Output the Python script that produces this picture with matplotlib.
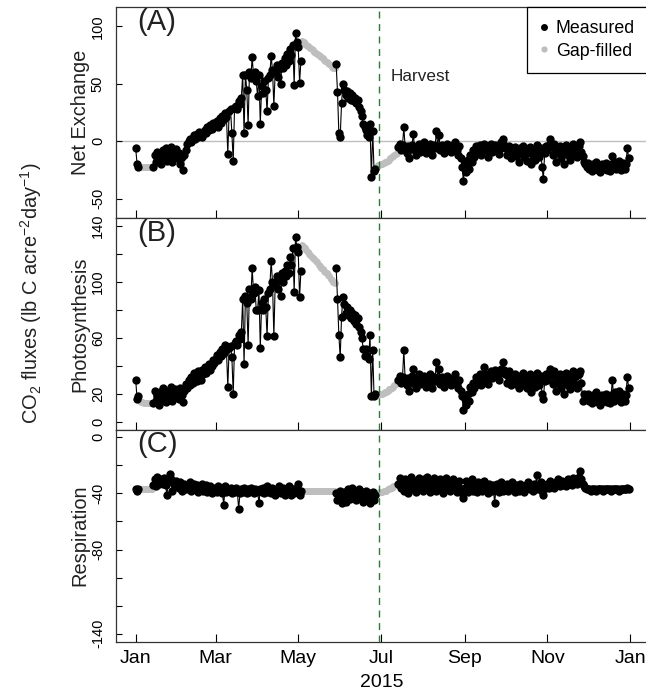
import matplotlib
matplotlib.use('Agg')
import matplotlib.pyplot as plt
from matplotlib.lines import Line2D
import numpy as np
import pandas as pd

plt.rcParams['font.family'] = ['Liberation Sans', 'DejaVu Sans']
plt.rcParams['mathtext.fontset'] = 'custom'
plt.rcParams['mathtext.rm'] = 'Liberation Sans'
plt.rcParams['mathtext.default'] = 'regular'

days = pd.date_range('2015-01-01', '2015-12-31', freq='D')

# net ecosystem exchange, one value per day (gap-filled days included)
nee_jan = [-6, -20, -22, -22, -22, -22, -22, -22, -22, -22, -22, -22, -22,
           -22, -12, -18, -9, -15, -11, -20, -8, -14, -6, -17, -10, -13, -5, -18, -9, -12, -7]
nee_feb = [-15, -10, -20, -14, -25, -12, -8, -2, 0, 2, -1, 3, 5, 2, 6, 4, 8, 6, 4, 8,
           10, 7, 12, 10, 14, 11, 16, 13]
nee_mar = [14, 18, 12, 20, 16, 22, 19, 25, 21, -11, 26, 28, 7, -17, 30, 31, 28, 35, 32, 38,
           58, 7, 58, 45, 14, 60, 55, 73, 57, 60, 52]
nee_apr = [39, 58, 15, 48, 42, 52, 45, 26, 55, 58, 74, 62, 31, 60, 66, 56, 63, 50, 68, 64,
           72, 66, 76, 70, 80, 75, 84, 49, 94, 86]
nee_may = [82, 51, 70, 87, 86, 85, 84, 83, 82, 81, 80, 79, 78, 77, 76, 75, 74, 73, 72, 71,
           70, 69, 68, 67, 66, 65, 64, 64, 67, 43, 7]
nee_jun = [4, 33, 50, 45, 40, 44, 38, 42, 36, 40, 35, 38, 33, 36, 30, 26, 22, 15, 12, 10,
           5, 4, 15, -31, 9, -26, -24, -22, -21, -21]
nee_jul = [-20, -20, -19, -18, -18, -17, -16, -15, -14, -13, -12, -11, -10,
           -5, -2, -8, -3, 12, -6, -10, -4, -15, -7, -3, 6, -8, -12, -5, -2, -9, -4]
nee_aug = [-6, -1, -10, -4, -7, -2, -5, -12, -3, -6, 9, -4, 5, -8, -3, -6, -10, -4, -2, -7,
           -5, -9, -3, -6, -1, -8, -12, -4, -15, -22, -35]
nee_sep = [-20, -27, -16, -24, -12, -18, -8, -14, -4, -10, -6, -3, -12, -5, -2, -8, -4, -14,
           -6, -2, -9, -5, -3, -7, -4, -11, -6, -1, 2, -3]
nee_oct = [-6, -12, -8, -4, -15, -7, -10, -5, -13, -9, -18, -6, -11, -4, -14, -8, -17, -10,
           -5, -20, -12, -7, -16, -3, -9, -14, -6, -22, -33, -10, -4]
nee_nov = [-8, -3, 2, -5, -12, -2, -18, -7, -10, -4, -15, -6, -20, -9, -3, -12, -5, -16, -8,
           -2, -11, -6, -14, -4, -1, -9, -13, -18, -20, -22]
nee_dec = [-19, -24, -21, -26, -20, -23, -18, -25, -22, -27, -20, -24, -21, -19, -25, -22,
           -26, -20, -13, -23, -18, -24, -21, -17, -25, -22, -19, -24, -20, -6, -15]

# gross photosynthesis
gpp_jan = [30, 16, 18, 15, 14, 14, 13, 13, 13, 13, 13, 13, 13,
           13, 22, 15, 19, 12, 21, 16, 24, 18, 14, 22, 17, 20, 25, 15, 19, 23, 18]
gpp_feb = [21, 16, 24, 19, 14, 22, 27, 24, 30, 26, 32, 28, 35, 31, 29, 36, 33, 30, 37, 34,
           39, 35, 38, 41, 37, 40, 44, 42]
gpp_mar = [45, 48, 44, 50, 47, 52, 49, 55, 51, 25, 53, 54, 46, 20, 56, 58, 55, 62, 59, 64,
           88, 41, 90, 85, 55, 95, 88, 110, 92, 96, 80]
gpp_apr = [80, 94, 53, 85, 80, 88, 82, 61, 92, 95, 115, 100, 61, 98, 104, 95, 102, 90, 106,
           100, 108, 104, 112, 106, 118, 112, 124, 93, 132, 125]
gpp_may = [121, 89, 108, 126, 125, 124, 123, 121, 120, 119, 118, 117, 116, 115, 114, 112,
           111, 110, 109, 108, 107, 106, 105, 104, 102, 101, 100, 99, 110, 88, 62]
gpp_jun = [46, 75, 89, 84, 78, 82, 76, 80, 74, 78, 72, 76, 70, 74, 68, 64, 60, 52, 47, 52,
           47, 45, 62, 18, 51, 18, 20, 19, 19, 19.5]
gpp_jul = [20, 20, 20.5, 21, 21.5, 22, 23, 23.5, 24, 25, 26, 27, 28,
           30, 33, 28, 32, 51, 29, 26, 31, 22, 28, 33, 38, 27, 24, 30, 34, 27, 31]
gpp_aug = [29, 33, 25, 31, 28, 34, 30, 24, 32, 29, 43, 31, 38, 27, 32, 29, 25, 31, 33, 28,
           30, 26, 31, 29, 34, 27, 24, 30, 22, 18, 8]
gpp_sep = [16, 12, 20, 15, 25, 21, 28, 24, 32, 27, 30, 34, 26, 32, 39, 30, 34, 27, 33, 36,
           31, 34, 37, 33, 36, 30, 35, 38, 43, 37]
gpp_oct = [34, 28, 33, 36, 26, 32, 29, 34, 27, 30, 24, 33, 28, 35, 26, 31, 24, 29, 34, 21,
           28, 32, 25, 35, 30, 26, 33, 20, 16, 29, 34]
gpp_nov = [30, 35, 38, 33, 27, 36, 22, 31, 28, 34, 24, 32, 20, 29, 35, 26, 33, 23, 30, 36,
           27, 33, 24, 34, 36, 28, 15, 20, 18, 16]
gpp_dec = [20, 15, 18, 13, 19, 16, 21, 14, 17, 12, 19, 15, 18, 20, 14, 17, 13, 19, 30, 15,
           21, 16, 18, 22, 14, 17, 20, 15, 19, 32, 24]

# ecosystem respiration
reco_jan = [-37, -38, -37, -37, -37, -37, -37, -37, -37, -37, -37, -37, -37,
            -34, -30, -35, -28, -33, -30, -31, -33, -29, -34, -41, -32, -26, -30, -38, -33, -35, -31]
reco_feb = [-34, -36, -32, -38, -35, -33, -37, -34, -36, -32, -38, -35, -33, -37, -34, -39,
            -35, -36, -33, -38, -36, -34, -39, -37, -35, -40, -36, -38]
reco_mar = [-37, -39, -35, -38, -36, -40, -48, -35, -39, -38, -38, -36, -40, -37, -39, -36,
            -38, -51, -40, -37, -39, -36, -38, -40, -37, -39, -36, -38, -40, -37, -39]
reco_apr = [-38, -47, -37, -39, -36, -40, -38, -35, -39, -37, -40, -36, -38, -41, -37, -39,
            -35, -40, -38, -36, -41, -37, -39, -35, -38, -41, -37, -40, -38, -36]
reco_may = [-33, -41, -38, -38, -38, -38, -38, -38, -38, -38, -38, -38, -38, -38, -38, -38,
            -38, -38, -38, -38, -38, -38, -38, -38, -38, -38, -38, -38, -40, -45, -42]
reco_jun = [-38, -47, -43, -39, -46, -41, -37, -44, -40, -36, -42, -38, -45, -41, -37, -43,
            -39, -46, -42, -38, -44, -40, -47, -43, -39, -45, -41, -40, -40, -39]
reco_jul = [-39, -39, -38, -38, -38, -37, -37, -36, -36, -35, -35, -34, -34,
            -33, -29, -36, -31, -38, -30, -35, -40, -32, -28, -34, -37, -31, -39, -33, -29, -36, -32]
reco_aug = [-38, -30, -35, -28, -33, -39, -31, -36, -29, -34, -38, -32, -37, -30, -35, -40,
            -33, -29, -36, -31, -38, -34, -30, -37, -33, -39, -35, -31, -37, -40, -43]
reco_sep = [-36, -31, -39, -34, -37, -30, -38, -35, -33, -39, -32, -36, -34, -38, -31, -37,
            -35, -40, -33, -36, -38, -34, -47, -37, -33, -39, -35, -32, -38, -34]
reco_oct = [-36, -33, -38, -34, -37, -32, -35, -39, -34, -36, -38, -33, -37, -35, -39, -34,
            -36, -32, -37, -35, -38, -33, -36, -27, -37, -35, -32, -38, -41, -34, -36]
reco_nov = [-33, -36, -31, -35, -33, -36, -32, -34, -30, -35, -33, -31, -34, -32, -35, -30,
            -33, -31, -34, -29, -32, -30, -33, -28, -24, -30, -33, -35, -36, -37]
reco_dec = [-37, -37, -38, -37, -37, -37, -38, -37, -37, -37, -37, -38, -37, -37, -37, -37,
            -37, -38, -37, -37, -37, -37, -37, -38, -37, -37, -37, -37, -37, -36, -37]

nee = (nee_jan + nee_feb + nee_mar + nee_apr + nee_may + nee_jun + nee_jul + nee_aug
       + nee_sep + nee_oct + nee_nov + nee_dec)
gpp = (gpp_jan + gpp_feb + gpp_mar + gpp_apr + gpp_may + gpp_jun + gpp_jul + gpp_aug
       + gpp_sep + gpp_oct + gpp_nov + gpp_dec)
reco = (reco_jan + reco_feb + reco_mar + reco_apr + reco_may + reco_jun + reco_jul + reco_aug
        + reco_sep + reco_oct + reco_nov + reco_dec)
for name, s in [('nee', nee), ('gpp', gpp), ('reco', reco)]:
    assert len(s) == 365, (name, len(s))

# day-of-year index ranges (inclusive) that were gap-filled
gap_ranges = [(3, 12), (123, 147), (178, 193)]
harvest = pd.Timestamp('2015-06-30')

tick_dates = pd.to_datetime(['2015-01-01', '2015-03-01', '2015-05-01', '2015-07-01',
                             '2015-09-01', '2015-11-01', '2016-01-01'])
tick_names = ['Jan', 'Mar', 'May', 'Jul', 'Sep', 'Nov', 'Jan']

panels = [
    dict(y=nee, tag='(A)', label='Net Exchange', lim=(-60, 110),
         ticks=[-50, 0, 50, 100], names=['-50', '0', '50', '100']),
    dict(y=gpp, tag='(B)', label='Photosynthesis', lim=(0, 140),
         ticks=[0, 20, 40, 60, 80, 100, 120, 140], names=['0', '20', '', '60', '', '100', '', '140']),
    dict(y=reco, tag='(C)', label='Respiration', lim=(-140, 0),
         ticks=[0, -20, -40, -60, -80, -100, -120, -140], names=['0', '', '-40', '', '-80', '', '', '-140']),
]

W, H = 646, 694
fig = plt.figure(figsize=(W / 100, H / 100), dpi=100)

is_gap = np.zeros(365, dtype=bool)
for a, b in gap_ranges:
    is_gap[a:b + 1] = True

x0 = days[0] - pd.Timedelta(days=14.56)
x1 = days[-1] + pd.Timedelta(days=14.56)
left_px, right_px = 116, 116 + 393.1 * 1.3543
tops = [7, 218, 429.5]
bots = [218, 429.5, 641.5]

axes = []
for i, p in enumerate(panels):
    ax = fig.add_axes([left_px / W, 1 - bots[i] / H, (right_px - left_px) / W, (bots[i] - tops[i]) / H])
    axes.append(ax)
    vals = np.array(p['y'], dtype=float)
    meas = np.where(is_gap, np.nan, vals)
    fill = np.where(is_gap, vals, np.nan)

    if i == 0:
        ax.axhline(0, color='#bebebe', lw=1, zorder=1)
    ax.plot(days, fill, 'o', color='#bebebe', ms=5, mec='none', zorder=2)
    ax.plot(days, meas, '-o', color='black', lw=0.8, ms=6, mec='none', zorder=3)
    ax.axvline(harvest, color='#2f7a3a', lw=1, ls=(0, (5, 4)), zorder=4)

    lo, hi = p['lim']
    r = hi - lo
    ax.set_ylim(lo - 0.04 * r, hi + 0.04 * r)
    ax.set_xlim(x0, x1)
    ax.set_yticks(p['ticks'])
    ax.set_yticklabels(p['names'], rotation=90, va='center')
    ax.set_xticks(tick_dates)
    if i == 2:
        ax.set_xticklabels(tick_names)
        ax.set_xlabel('2015', fontsize=14, labelpad=5)
    else:
        ax.set_xticklabels([])
    ax.tick_params(axis='y', direction='in', length=4.5, width=0.8, labelsize=10.5, pad=8)
    ax.tick_params(axis='x', direction='in', length=6, width=0.8, labelsize=14, pad=6)
    for sp in ax.spines.values():
        sp.set_linewidth(0.9)
        sp.set_color('#333333')

    ax.text(0.039, 0.93, p['tag'], transform=ax.transAxes, fontsize=21,
            ha='left', va='center', color='#222222')
    ax.text(-0.0676, 0.5, p['label'], transform=ax.transAxes, fontsize=14.4,
            rotation=90, ha='center', va='center', color='#222222')

axes[0].text(harvest + pd.Timedelta(days=8), 56, 'Harvest', fontsize=12.3,
             ha='left', va='center', color='#222222')

handles = [Line2D([], [], marker='o', color='black', ls='none', ms=5, mec='none'),
           Line2D([], [], marker='o', color='#bebebe', ls='none', ms=4.5, mec='none')]
leg = axes[0].legend(handles, ['Measured', 'Gap-filled'], loc='upper right',
                     bbox_to_anchor=(1, 1), borderaxespad=0, fontsize=12.8,
                     fancybox=False, framealpha=1, edgecolor='black',
                     handlelength=0.5, handletextpad=0.4, borderpad=0.75, labelspacing=0.3)
leg.get_frame().set_linewidth(0.9)

fig.text(31 / W, 1 - 293 / H, r'CO$_2$ fluxes (lb C acre$^{-2}$day$^{-1}$)',
         rotation=90, ha='center', va='center', fontsize=14.4, color='#222222')

fig.savefig('out.png', dpi=100)
